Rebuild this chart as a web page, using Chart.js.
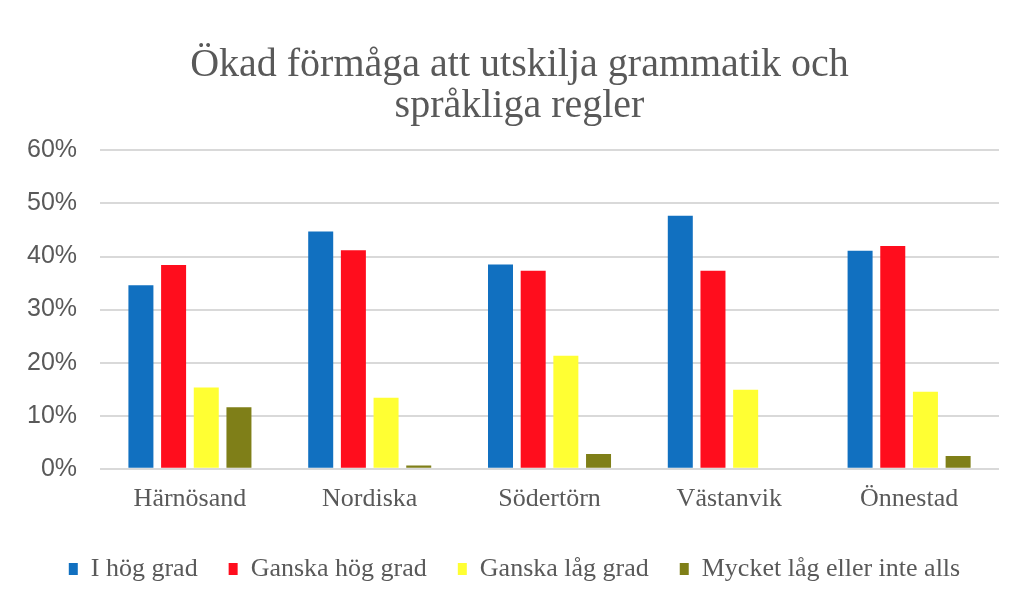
<!DOCTYPE html>
<html>
<head>
<meta charset="utf-8">
<script src="https://cdn.jsdelivr.net/npm/chart.js@4"></script>
<style>
  html, body { margin: 0; padding: 0; background: #fff; }
  #wrap { width: 1024px; height: 612px; }
</style>
</head>
<body>
<div id="wrap"><canvas id="chart"></canvas></div>
<script>
const categories = ['Härnösand', 'Nordiska', 'Södertörn', 'Västanvik', 'Önnestad'];
const hogGrad = [34.6, 44.7, 38.5, 47.7, 41.1];
const ganskaHog = [38.4, 41.2, 37.3, 37.3, 42.0];
const ganskaLag = [15.3, 13.4, 21.3, 14.9, 14.5];
const mycketLag = [11.6, 0.6, 2.8, 0, 2.4];
const yTicks = [0, 10, 20, 30, 40, 50, 60];

const serif = '"Liberation Serif", "Times New Roman", serif';
const sans = '"Liberation Sans", Arial, sans-serif';
const gray = '#595959';

function series(label, data, color) {
    return {
        label: label,
        data: data,
        backgroundColor: color,
        barPercentage: 0.765,
        categoryPercentage: 0.727
    };
}

// title and legend sit a little right of the plot centre in the original
const nudgeBoxes = {
    id: 'nudgeBoxes',
    afterLayout(chart) {
        if (chart.titleBlock) {
            chart.titleBlock.left += 18;
            chart.titleBlock.right += 18;
        }
        if (chart.legend) {
            chart.legend.left += 13;
            chart.legend.right += 13;
        }
    }
};

new Chart(document.getElementById('chart'), {
    type: 'bar',
    data: {
        labels: categories,
        datasets: [
            series('I hög grad', hogGrad, '#1170C0'),
            series('Ganska hög grad', ganskaHog, '#FF0D1D'),
            series('Ganska låg grad', ganskaLag, '#FFFF33'),
            series('Mycket låg eller inte alls', mycketLag, '#7F7F18')
        ]
    },
    plugins: [nudgeBoxes],
    options: {
        responsive: true,
        maintainAspectRatio: false,
        animation: false,
        layout: { padding: { left: 4, right: 25, top: 45, bottom: 20 } },
        plugins: {
            title: {
                display: true,
                text: ['Ökad förmåga att utskilja grammatik och', 'språkliga regler'],
                color: gray,
                font: { family: serif, size: 40, weight: 'normal', lineHeight: 1.03 },
                padding: { top: 0, bottom: 23 }
            },
            legend: {
                position: 'bottom',
                labels: {
                    color: gray,
                    font: { family: serif, size: 26 },
                    boxWidth: 9,
                    boxHeight: 12,
                    padding: 31
                }
            },
            tooltip: { enabled: false }
        },
        scales: {
            x: {
                grid: { display: false },
                border: { display: false },
                ticks: { color: gray, font: { family: serif, size: 26 }, padding: 7 },
                afterFit: function (axis) {
                    axis.height += 3;
                }
            },
            y: {
                min: 0,
                max: 60,
                afterBuildTicks: function (axis) {
                    axis.ticks = yTicks.map(v => ({ value: v }));
                },
                grid: { color: '#D9D9D9', lineWidth: 2, drawTicks: false },
                border: { display: false },
                ticks: {
                    color: gray,
                    font: { family: sans, size: 25 },
                    padding: 23,
                    callback: v => v + '%'
                }
            }
        }
    }
});
</script>
</body>
</html>
